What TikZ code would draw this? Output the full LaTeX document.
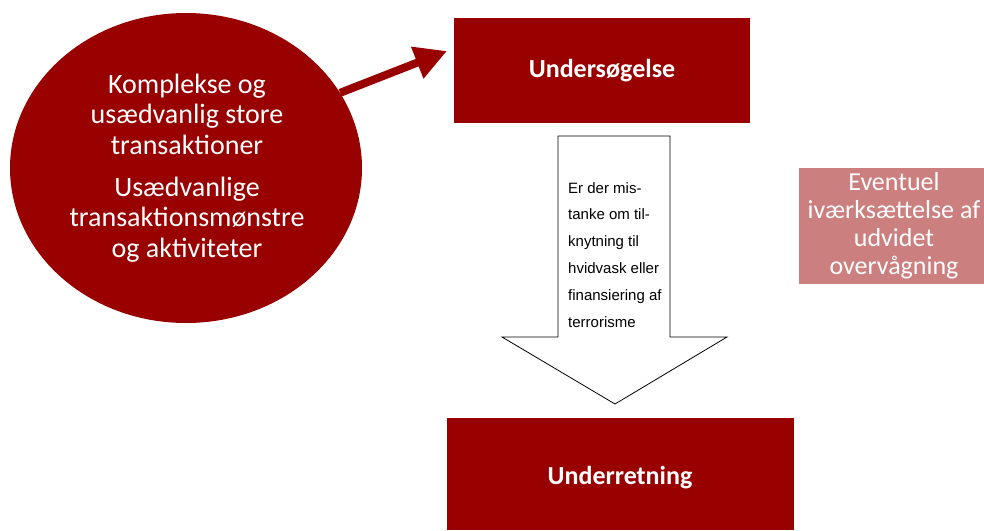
\documentclass[tikz,border=0pt]{standalone}
\usepackage{fontspec}
\setmainfont{Carlito}
\newfontfamily\arialfont{Liberation Sans}
\usetikzlibrary{shapes.geometric,arrows.meta}
\definecolor{darkred}{HTML}{990000}
\definecolor{palered}{HTML}{CC7F7F}
\tikzset{
  x=1pt,y=1pt,
  redbox/.style={fill=darkred,draw=none},
  boxtext/.style={text=white,font=\fontsize{26}{30}\selectfont\bfseries},
  bigarrow/.style={draw=darkred,line width=8pt,-{Triangle[length=32pt,width=32pt]}},
  blockarrow/.style={draw=black,line width=0.8pt,fill=white},
}
\begin{document}
\begin{tikzpicture}
\useasboundingbox (0,0) rectangle (984,-530);
% ellipse
\node[ellipse,fill=darkred,minimum width=352pt,minimum height=310pt,inner sep=0pt] (circ) at (186,-168) {};
\node[text=white,align=center,font=\fontsize{28}{30.5}\selectfont] (circtext) at (187,-168)
  {Komplekse og\\usædvanlig store\\transaktioner\\[11.5pt]Usædvanlige\\transaktionsmønstre\\og aktiviteter};
% Undersøgelse box
\fill[redbox] (454,-18) rectangle (750,-123);
\node[boxtext] (unders) at (602,-71) {Undersøgelse};
% red arrow
\coordinate (tip) at (447,-51);
\draw[bigarrow] (circ.26) -- (tip);
% block arrow
\draw[blockarrow] (558,-136) -- (670,-136) -- (670,-337) -- (727,-337) -- (615,-404) -- (502,-337) -- (558,-337) -- cycle;
\node[anchor=base west,align=left,font=\arialfont\fontsize{15}{26.8}\selectfont,inner sep=0pt] (q) at (568,-327)
  {Er der mis-\\tanke om til-\\knytning til\\hvidvask eller\\finansiering af\\terrorisme};
% Eventuel box
\fill[palered] (799,-168) rectangle (984,-284);
\node[text=white,align=center,font=\fontsize{26}{28}\selectfont] (event) at (894,-226)
  {Eventuel\\iværksættelse af\\udvidet\\overvågning};
% Underretning box
\fill[redbox] (447,-418) rectangle (794,-530);
\node[boxtext] (underr) at (620,-478) {Underretning};
\end{tikzpicture}
\end{document}
